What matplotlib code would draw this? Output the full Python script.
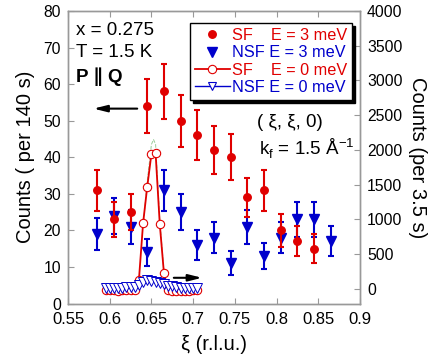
import matplotlib
matplotlib.use("Agg")
import matplotlib.pyplot as plt
from matplotlib.lines import Line2D

plt.rcParams['font.family'] = ['Liberation Sans', 'DejaVu Sans']
plt.rcParams['mathtext.fontset'] = 'custom'
plt.rcParams['mathtext.rm'] = 'Liberation Sans'

# ---- data: E = 3 meV (left axis) ----
xi_sf3 = [0.585, 0.605, 0.625, 0.645, 0.665, 0.685, 0.705, 0.725, 0.745, 0.765, 0.785, 0.805, 0.825, 0.845]
sf3 = [31, 23, 25, 54, 58, 50, 46, 42, 40, 29, 31, 20, 17, 15]
sf3_err = [5.6, 4.8, 5.0, 7.3, 7.6, 7.1, 6.8, 6.5, 6.3, 5.4, 5.6, 4.5, 4.1, 3.9]

xi_nsf3 = [0.585, 0.605, 0.625, 0.645, 0.665, 0.685, 0.705, 0.725, 0.745, 0.765, 0.785, 0.805, 0.825, 0.845, 0.865]
nsf3 = [19, 24, 21, 14, 31, 25, 16, 18, 11, 21, 13, 18, 23, 23, 17]
nsf3_err = [4.4, 4.9, 4.6, 3.7, 5.6, 5.0, 4.0, 4.2, 3.3, 4.6, 3.6, 4.2, 4.8, 4.8, 4.1]

# ---- data: E = 0 meV (right axis) ----
xi_e0 = [0.595, 0.600, 0.605, 0.610, 0.615, 0.620, 0.625, 0.630, 0.635, 0.640, 0.645, 0.650,
         0.655, 0.660, 0.665, 0.670, 0.675, 0.680, 0.685, 0.690, 0.695, 0.700, 0.705]
sf0 = [-15, -20, -20, -25, -20, -20, -15, -20, 130, 946, 1473, 1944,
       1954, 932, 226, -20, -25, -25, -30, -25, -25, -20, -20]
nsf0 = [20, 20, 15, 20, 20, 25, 25, 30, 60, 105, 125, 120,
        105, 90, 70, 45, 35, 25, 20, 20, 20, 15, 20]

# faint fit curve (green)
xi_fit = [0.640, 0.645, 0.650, 0.6525, 0.655, 0.660, 0.665]
fit = [900, 1550, 2080, 2150, 2080, 1000, 250]

red = '#e00000'
blue = '#0000cc'
spine_c = '#999999'

fig = plt.figure(figsize=(4.36, 3.54), dpi=100)
ax = fig.add_axes([68/436, 1-303.5/354, 292/436, 292.5/354])
ax2 = ax.twinx()

ax.errorbar(xi_nsf3, nsf3, yerr=nsf3_err, fmt='v', color=blue, ms=6.7, lw=1.5,
            capsize=2, capthick=1.5, zorder=3)
ax.errorbar(xi_sf3, sf3, yerr=sf3_err, fmt='o', color=red, ms=5.4, lw=1.5,
            capsize=2, capthick=1.5, zorder=4)

ax2.plot(xi_fit, fit, '--', color='#99cc99', lw=0.7, zorder=1)
ax2.plot(xi_e0, sf0, '-o', color=red, mfc='white', mec=red, ms=6.0, mew=0.8, lw=1.3, zorder=2)
ax2.plot(xi_e0, nsf0, '-v', color=blue, mfc='white', mec=blue, ms=7.0, mew=0.7, lw=0.8, zorder=3)

ax.set_xlim(0.55, 0.9)
ax.set_ylim(0, 80)
ax2.set_ylim(-210, 4000)
ax.set_xticks([0.55, 0.6, 0.65, 0.7, 0.75, 0.8, 0.85, 0.9])
ax.set_xticklabels(['0.55', '0.6', '0.65', '0.7', '0.75', '0.8', '0.85', '0.9'])
ax.set_yticks(range(0, 81, 10))
ax2.set_yticks(range(0, 4001, 500))

for a in (ax, ax2):
    for s in a.spines.values():
        s.set_color(spine_c)
        s.set_linewidth(1.0)
ax.tick_params(axis='x', direction='in', top=True, length=4, color=spine_c, labelsize=12, pad=6)
ax.tick_params(axis='y', direction='in', length=4, color=spine_c, labelsize=11.3, pad=5)
ax2.tick_params(axis='y', direction='in', length=4, color=spine_c, labelsize=11.3, pad=5)

ax.set_xlabel('ξ (r.l.u.)', fontsize=14.5, labelpad=6)
ax.set_ylabel('Counts ( per 140 s)', fontsize=14.5, labelpad=6)
ax2.set_ylabel('Counts (per 3.5 s)', fontsize=14.5, rotation=270, labelpad=18)

ax.text(0.027, 0.932, 'x = 0.275', transform=ax.transAxes, fontsize=13.5, va='center')
ax.text(0.027, 0.857, 'T = 1.5 K', transform=ax.transAxes, fontsize=13.5, va='center')
ax.text(0.027, 0.776, 'P ∥ Q', transform=ax.transAxes, fontsize=13.5, va='center', fontweight='bold')
ax.text(0.647, 0.619, '( ξ, ξ, 0)', transform=ax.transAxes, fontsize=13.5, va='center')
ax.text(0.654, 0.527, r'k$_\mathregular{f}$ = 1.5 Å$^\mathregular{-1}$', transform=ax.transAxes,
        fontsize=13.5, va='center')

ax.annotate('', xy=(0.5772, 53.3), xytext=(0.6363, 53.3),
            arrowprops=dict(arrowstyle='-|>,head_length=0.8,head_width=0.2', color='k', lw=1.5))
ax2.annotate('', xy=(0.714, 160), xytext=(0.6735, 160),
             arrowprops=dict(arrowstyle='-|>,head_length=0.8,head_width=0.2', color='k', lw=1.5))

handles = [
    Line2D([], [], ls='none', marker='o', color=red, ms=5.4),
    Line2D([], [], ls='none', marker='v', color=blue, ms=6.7),
    Line2D([], [], ls='-', marker='o', color=red, mfc='white', ms=6.0, mew=0.8, lw=1.3),
    Line2D([], [], ls='-', marker='v', color=blue, mfc='white', ms=6.0, mew=0.8, lw=1.0),
]
labels = ['SF    E = 3 meV', 'NSF E = 3 meV', 'SF    E = 0 meV', 'NSF E = 0 meV']
leg = ax2.legend(handles, labels, loc='upper right', bbox_to_anchor=(0.973, 0.959),
                 fontsize=11.7, frameon=True, fancybox=False, shadow={'color': 'k', 'alpha': 1},
                 edgecolor='k', framealpha=1, borderaxespad=0, borderpad=0.3,
                 handlelength=2.2, handletextpad=0.1, labelspacing=0.15)
leg.get_frame().set_linewidth(1.0)
for t, c in zip(leg.get_texts(), [red, blue, red, blue]):
    t.set_color(c)

fig.savefig('out.png', dpi=100)
